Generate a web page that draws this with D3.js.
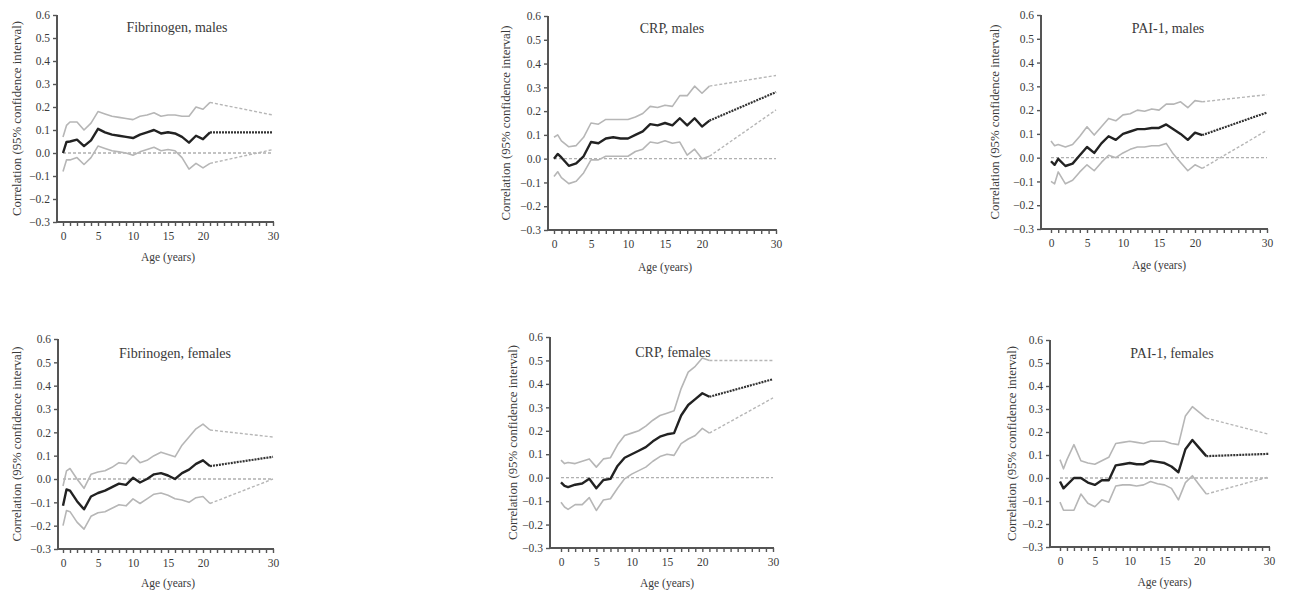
<!DOCTYPE html>
<html><head><meta charset="utf-8">
<script src="https://cdn.jsdelivr.net/npm/d3@7"></script>
<style>
html,body{margin:0;padding:0;background:#fff;}
svg{display:block;}
svg text{font-family:"Liberation Serif","Times New Roman",Times,"DejaVu Serif",serif !important;fill:#3a3a3a;}
</style></head>
<body>
<svg id="c" width="1289" height="595"></svg>
<script>
// ---- data ----
const ages = [0,0.5,1,2,3,4,5,6,7,8,9,10,11,12,13,14,15,16,17,18,19,20,21,30];
const xTickValues = d3.range(0,31,1);
const xTickLabels = [0,5,10,15,20,30];
const yTickValues = [-0.3,-0.2,-0.1,0.0,0.1,0.2,0.3,0.4,0.5,0.6];
const titles = ["Fibrinogen, males","CRP, males","PAI-1, males","Fibrinogen, females","CRP, females","PAI-1, females"];

const fibM_est = [0.0,0.048,0.05,0.058,0.03,0.055,0.105,0.09,0.08,0.075,0.07,0.065,0.08,0.09,0.10,0.085,0.09,0.085,0.07,0.045,0.075,0.06,0.09,0.09];
const fibM_hi  = [0.07,0.12,0.135,0.135,0.10,0.13,0.18,0.17,0.16,0.155,0.15,0.145,0.16,0.165,0.175,0.16,0.165,0.165,0.16,0.16,0.20,0.19,0.22,0.165];
const fibM_lo  = [-0.08,-0.03,-0.03,-0.02,-0.05,-0.02,0.03,0.02,0.01,0.005,0.0,-0.01,0.005,0.015,0.025,0.01,0.015,0.01,-0.02,-0.07,-0.045,-0.065,-0.045,0.015];

const crpM_est = [0.0,0.02,0.005,-0.03,-0.02,0.01,0.07,0.065,0.085,0.09,0.085,0.085,0.10,0.115,0.145,0.14,0.15,0.14,0.17,0.14,0.17,0.135,0.16,0.28];
const crpM_hi  = [0.09,0.10,0.075,0.05,0.055,0.09,0.15,0.145,0.165,0.165,0.165,0.165,0.175,0.19,0.22,0.215,0.225,0.22,0.265,0.265,0.305,0.275,0.305,0.35];
const crpM_lo  = [-0.075,-0.055,-0.08,-0.105,-0.095,-0.06,-0.005,-0.005,0.01,0.01,0.01,0.01,0.03,0.04,0.07,0.065,0.075,0.065,0.07,0.015,0.04,0.0,0.01,0.205];

const paiM_est = [-0.015,-0.03,-0.005,-0.035,-0.025,0.01,0.045,0.02,0.06,0.09,0.075,0.10,0.11,0.12,0.12,0.125,0.125,0.14,0.12,0.10,0.075,0.105,0.095,0.19];
const paiM_hi  = [0.07,0.05,0.055,0.045,0.055,0.09,0.13,0.095,0.13,0.165,0.155,0.18,0.185,0.20,0.195,0.205,0.20,0.225,0.225,0.235,0.21,0.24,0.235,0.265];
const paiM_lo  = [-0.10,-0.11,-0.06,-0.11,-0.095,-0.06,-0.03,-0.055,-0.02,0.01,0.0,0.02,0.035,0.045,0.045,0.05,0.05,0.06,0.015,-0.02,-0.055,-0.03,-0.045,0.115];

const fibF_est = [-0.115,-0.045,-0.05,-0.095,-0.13,-0.075,-0.06,-0.05,-0.035,-0.02,-0.025,0.005,-0.015,0.0,0.02,0.025,0.015,0.0,0.025,0.04,0.065,0.08,0.055,0.095];
const fibF_hi  = [-0.03,0.035,0.045,0.0,-0.04,0.02,0.03,0.035,0.05,0.07,0.065,0.10,0.07,0.08,0.10,0.115,0.105,0.095,0.145,0.18,0.215,0.235,0.21,0.18];
const fibF_lo  = [-0.20,-0.135,-0.14,-0.185,-0.215,-0.16,-0.145,-0.14,-0.125,-0.11,-0.115,-0.085,-0.105,-0.085,-0.065,-0.06,-0.07,-0.085,-0.09,-0.10,-0.08,-0.075,-0.105,0.0];

const crpF_est = [-0.02,-0.035,-0.04,-0.03,-0.025,-0.005,-0.045,-0.01,-0.005,0.05,0.085,0.10,0.115,0.13,0.155,0.175,0.185,0.19,0.265,0.31,0.335,0.36,0.345,0.42];
const crpF_hi  = [0.075,0.06,0.065,0.06,0.07,0.08,0.045,0.08,0.085,0.14,0.18,0.19,0.20,0.22,0.245,0.265,0.275,0.285,0.38,0.45,0.475,0.51,0.50,0.50];
const crpF_lo  = [-0.105,-0.125,-0.135,-0.115,-0.115,-0.085,-0.14,-0.095,-0.09,-0.045,-0.005,0.015,0.03,0.045,0.07,0.09,0.10,0.095,0.145,0.165,0.18,0.21,0.19,0.34];

const paiF_est = [-0.015,-0.045,-0.03,0.0,0.0,-0.02,-0.03,-0.01,-0.01,0.055,0.06,0.065,0.06,0.06,0.075,0.07,0.065,0.05,0.025,0.125,0.165,0.13,0.095,0.105];
const paiF_hi  = [0.08,0.04,0.08,0.145,0.075,0.065,0.06,0.075,0.09,0.15,0.155,0.16,0.155,0.15,0.16,0.16,0.16,0.15,0.145,0.27,0.31,0.285,0.26,0.19];
const paiF_lo  = [-0.105,-0.14,-0.14,-0.14,-0.07,-0.11,-0.125,-0.095,-0.105,-0.035,-0.03,-0.03,-0.035,-0.03,-0.015,-0.025,-0.03,-0.045,-0.095,-0.02,0.01,-0.03,-0.07,0.005];

const seriesEst = [fibM_est,crpM_est,paiM_est,fibF_est,crpF_est,paiF_est];
const seriesHi  = [fibM_hi,crpM_hi,paiM_hi,fibF_hi,crpF_hi,paiF_hi];
const seriesLo  = [fibM_lo,crpM_lo,paiM_lo,fibF_lo,crpF_lo,paiF_lo];

// ---- layout (pixel placement of each panel) ----
const layout = [
  {ax:57,  x0:63,  x1:273,  yT:15,  yB:222, tx:177,  ty:27,  xl:257, yl:17},
  {ax:548, x0:554, x1:776,  yT:16,  yB:230, tx:672,  ty:28,  xl:267, yl:506},
  {ax:1041,x0:1051,x1:1267, yT:15,  yB:229, tx:1168, ty:28,  xl:265, yl:995},
  {ax:58,  x0:63,  x1:273,  yT:339, yB:549, tx:175,  ty:353, xl:583, yl:17},
  {ax:550, x0:561, x1:773,  yT:337, yB:548, tx:673,  ty:352, xl:583, yl:513},
  {ax:1050,x0:1060,x1:1269, yT:340, yB:547, tx:1172, ty:353, xl:582, yl:1012}
];

const svg = d3.select("#c");
const nSolid = 23; // ages 0..21

layout.forEach((L,i)=>{
  const g = svg.append("g");
  const x = d3.scaleLinear().domain([0,30]).range([L.x0,L.x1]);
  const y = d3.scaleLinear().domain([-0.3,0.6]).range([L.yB,L.yT]);
  const line = d3.line().x(d=>x(d[0])).y(d=>y(d[1]));

  g.append("path").attr("d", line([[0,0],[30,0]]))
    .attr("fill","none").attr("stroke","#b0b0b0").attr("stroke-width",1.3).attr("stroke-dasharray","3,2");

  const est = ages.map((a,k)=>[a,seriesEst[i][k]]);
  const hi  = ages.map((a,k)=>[a,seriesHi[i][k]]);
  const lo  = ages.map((a,k)=>[a,seriesLo[i][k]]);

  [hi,lo].forEach(s=>{
    g.append("path").attr("d", line(s.slice(0,nSolid)))
      .attr("fill","none").attr("stroke","#b6b6b6").attr("stroke-width",1.6).attr("stroke-linejoin","round");
    g.append("path").attr("d", line(s.slice(nSolid-1)))
      .attr("fill","none").attr("stroke","#b6b6b6").attr("stroke-width",1.4).attr("stroke-dasharray","3,2");
  });
  g.append("path").attr("d", line(est.slice(0,nSolid)))
    .attr("fill","none").attr("stroke","#222").attr("stroke-width",2.4).attr("stroke-linejoin","round");
  g.append("path").attr("d", line(est.slice(nSolid-1)))
    .attr("fill","none").attr("stroke","#333").attr("stroke-width",2.2).attr("stroke-dasharray","2,1");

  const yAxis = d3.axisLeft(y).tickValues(yTickValues).tickFormat(d3.format(".1f")).tickSize(4).tickPadding(3);
  const ya = g.append("g").attr("transform",`translate(${L.ax},0)`).call(yAxis);
  ya.select(".domain").attr("d",`M0,${L.yT}V${L.yB}`);
  const xAxis = d3.axisBottom(x).tickValues(xTickValues)
    .tickFormat(d=>xTickLabels.includes(d)?d:"").tickSize(4).tickPadding(6);
  const xa = g.append("g").attr("transform",`translate(0,${L.yB})`).call(xAxis);
  xa.select(".domain").attr("d",`M${L.ax},0H${L.x1+1}`);
  [ya,xa].forEach(a=>{
    a.attr("font-family",null);
    a.select(".domain").attr("stroke","#555").attr("stroke-width",2);
    a.selectAll(".tick line").attr("stroke","#555").attr("stroke-width",1.4);
    a.selectAll("text").attr("font-size",11.5);
  });

  g.append("text").attr("x",L.tx).attr("y",L.ty).attr("text-anchor","middle")
    .attr("dominant-baseline","central").attr("font-size",14).text(titles[i]);
  g.append("text").attr("x",(L.x0+L.x1)/2).attr("y",L.xl).attr("text-anchor","middle")
    .attr("dominant-baseline","central").attr("font-size",11.5).text("Age (years)");
  g.append("text").attr("transform",`translate(${L.yl},${(L.yT+L.yB)/2}) rotate(-90)`)
    .attr("text-anchor","middle").attr("dominant-baseline","central").attr("font-size",12.8)
    .text("Correlation (95% confidence interval)");
});
</script>
</body></html>
